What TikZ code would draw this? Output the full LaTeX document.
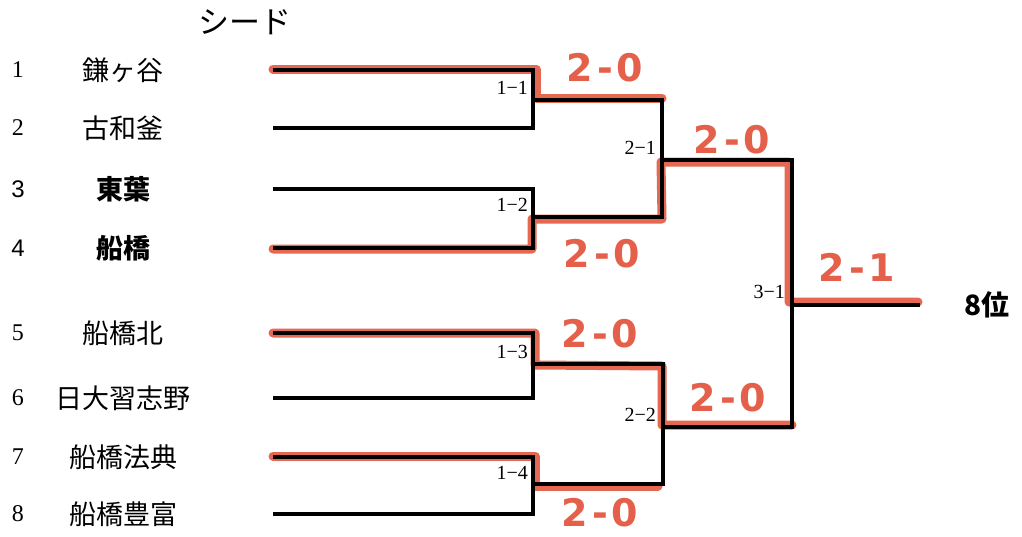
\documentclass[tikz,border=0pt]{standalone}
\usepackage{fontspec}
\setmainfont{Liberation Serif}
\newfontfamily\jp{Noto Sans CJK JP}
\newfontfamily\numsans{Liberation Sans}
\newfontfamily\hand{DejaVu Sans}
\definecolor{marker}{RGB}{228,96,74}
\begin{document}
\begin{tikzpicture}[x=1pt,y=-1pt,
  bline/.style={line width=3.2pt,black,line join=miter},
  rline/.style={line width=9pt,marker,line cap=round,line join=round,opacity=0.95},
  num/.style={font=\fontsize{24}{24}\selectfont},
  numb/.style={font=\numsans\fontsize{24}{24}\selectfont},
  team/.style={font=\jp\fontsize{27}{27}\selectfont},
  teamb/.style={font=\jp\bfseries\fontsize{27}{27}\selectfont},
  mlabel/.style={font=\fontsize{20}{20}\selectfont,anchor=east,inner sep=0pt},
  score/.style={font=\hand\bfseries\fontsize{38}{38}\selectfont,text=marker,inner sep=0pt}]
\useasboundingbox (0,0) rectangle (1022,536);
\fill[white] (0,0) rectangle (1022,536);
% coordinates
\foreach \i/\y in {1/70,2/128,3/189,4/248,5/333,6/398,7/457,8/514}{
  \coordinate (s\i) at (273,\y);
  \coordinate (e\i) at (533,\y);
}
\coordinate (m11) at (662,100);
\coordinate (m12) at (662,217);
\coordinate (m13) at (663,364);
\coordinate (m14) at (663,484);
\coordinate (m21) at (792,160);
\coordinate (m22) at (792,427);
\coordinate (fin) at (920,305);
% red marker paths
\draw[rline] (273,69) -- (536,69) -- (536,98) -- (662,98);
\draw[rline] (273,249) -- (532,249) -- (532,219) -- (662,219) -- (661,162) -- (789,162) -- (789,302) -- (918,302);
\draw[rline] (273,333) -- (535,333) -- (535,365) -- (662,366) -- (662,425) -- (792,425);
\draw[rline] (273,456) -- (535,456) -- (535,486) -- (658,486);
% black bracket
\draw[bline] (s1) -- (e1) -- (e2) -- (s2);
\draw[bline] (s3) -- (e3) -- (e4) -- (s4);
\draw[bline] (s5) -- (e5) -- (e6) -- (s6);
\draw[bline] (s7) -- (e7) -- (e8) -- (s8);
\draw[bline] (e1 |- m11) -- (m11) -- (m12) -- (e3 |- m12);
\draw[bline] (e5 |- m13) -- (m13) -- (m14) -- (e7 |- m14);
\draw[bline] (m11 |- m21) -- (m21) -- (m22) -- (m13 |- m22);
\draw[bline] (m21 |- fin) -- (fin);
% title
\node[font=\jp\fontsize{31}{31}\selectfont] (title) at (245,22) {シード};
% numbers and teams
\node[num] (n1) at (18,70) {1};
\node[num] (n2) at (18,128) {2};
\node[numb] (n3) at (18,189) {3};
\node[numb] (n4) at (18,248) {4};
\node[num] (n5) at (18,333) {5};
\node[num] (n6) at (18,398) {6};
\node[num] (n7) at (18,457) {7};
\node[num] (n8) at (18,514) {8};
\node[team] (t1) at (123,70) {鎌ヶ谷};
\node[team] (t2) at (123,128) {古和釜};
\node[teamb] (t3) at (123,189) {東葉};
\node[teamb] (t4) at (123,248) {船橋};
\node[team] (t5) at (123,333) {船橋北};
\node[team] (t6) at (123,398) {日大習志野};
\node[team] (t7) at (123,457) {船橋法典};
\node[team] (t8) at (123,514) {船橋豊富};
% match labels
\node[mlabel] (l11) at (528,88) {1−1};
\node[mlabel] (l12) at (528,205) {1−2};
\node[mlabel] (l13) at (528,352) {1−3};
\node[mlabel] (l14) at (528,473) {1−4};
\node[mlabel] (l21) at (656,148) {2−1};
\node[mlabel] (l22) at (656,415) {2−2};
\node[mlabel] (l31) at (785,292) {3−1};
% scores
\node[score] (c11) at (605,68) {2\kern4pt-\kern4pt0};
\node[score] (c12) at (602,254) {2\kern4pt-\kern4pt0};
\node[score] (c13) at (600,334) {2\kern4pt-\kern4pt0};
\node[score] (c14) at (600,513) {2\kern4pt-\kern4pt0};
\node[score] (c21) at (732,140) {2\kern4pt-\kern4pt0};
\node[score] (c22) at (728,398) {2\kern4pt-\kern4pt0};
\node[score] (c31) at (857,267) {2\kern4pt-\kern4pt1};
% result
\node[font=\jp\bfseries\fontsize{28}{28}\selectfont] (res) at (987,305) {8位};
\end{tikzpicture}
\end{document}
